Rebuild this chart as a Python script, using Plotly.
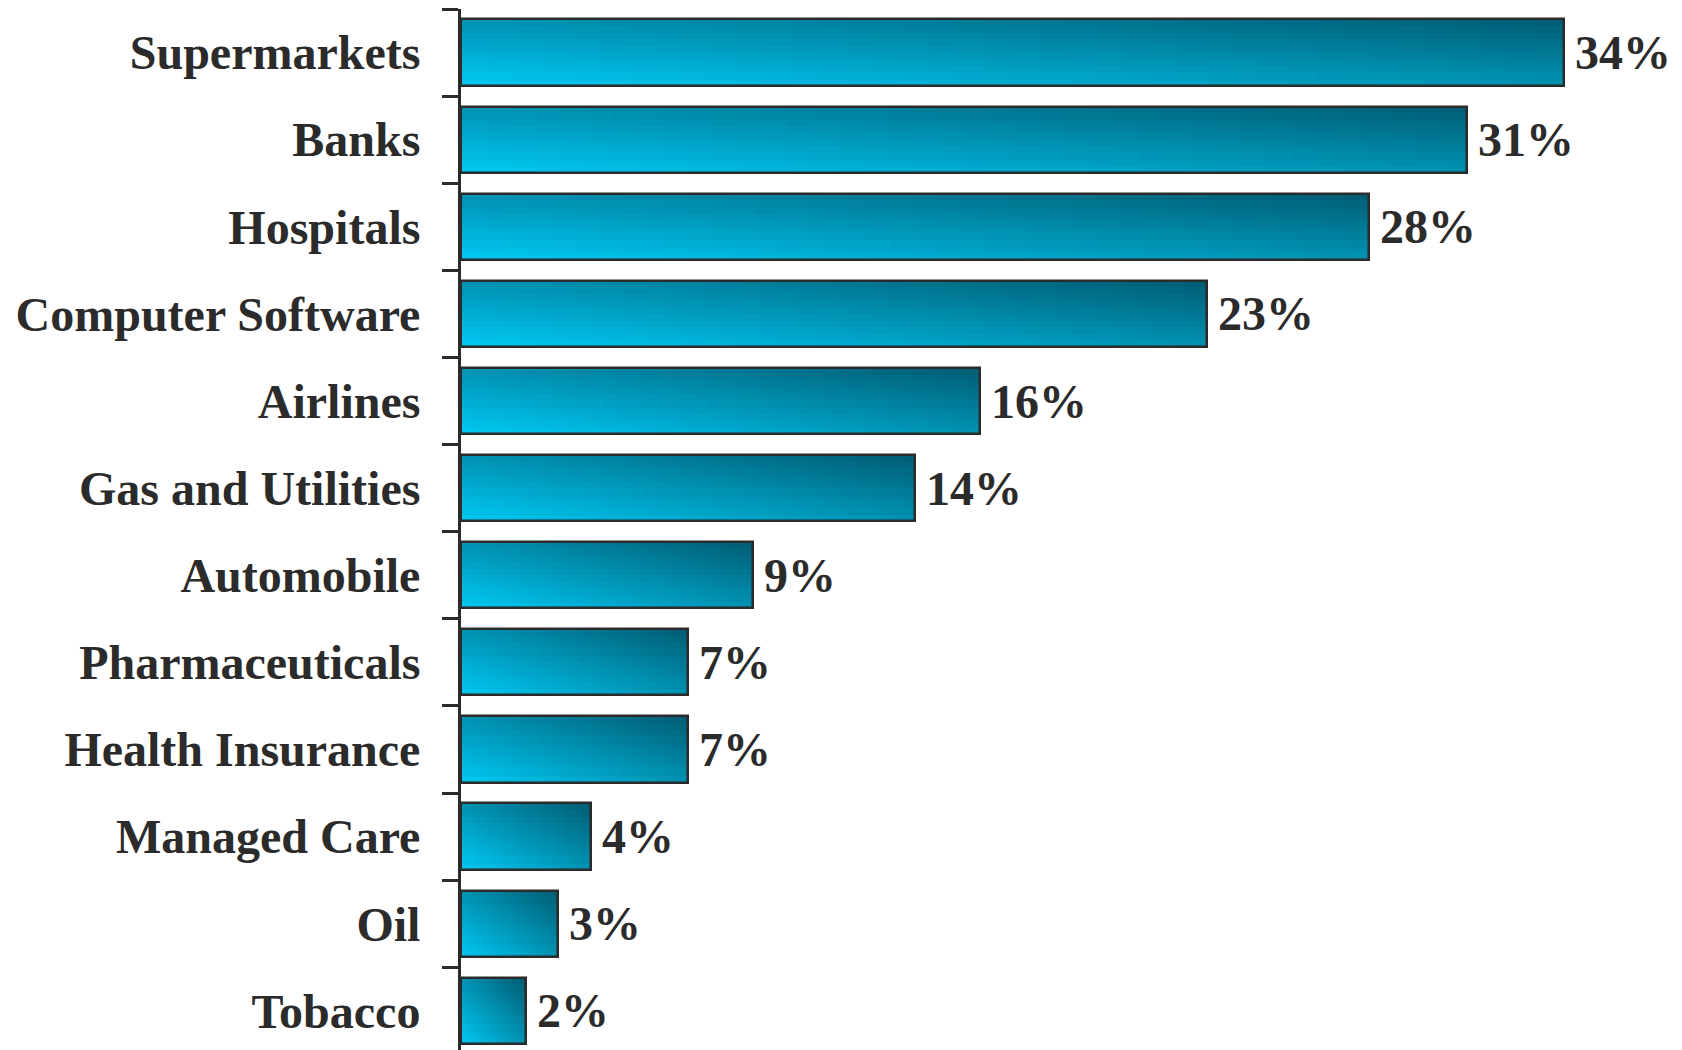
import plotly.graph_objects as go

categories = ["Supermarkets", "Banks", "Hospitals", "Computer Software", "Airlines",
              "Gas and Utilities", "Automobile", "Pharmaceuticals", "Health Insurance",
              "Managed Care", "Oil", "Tobacco"]
values = [34, 31, 28, 23, 16, 14, 9, 7, 7, 4, 3, 2]
label_texts = [f"{v}%" for v in values]

BAR_W = 0.76
N_X = 40   # gradient slices along the bar length
N_Y = 10   # gradient strips across the bar thickness
C0 = (0, 200, 242)   # bright cyan (bottom-left)
C1 = (0, 92, 115)    # dark teal (top-right)


def mix(t):
    return "rgb({},{},{})".format(*[round(a + (b - a) * t) for a, b in zip(C0, C1)])


gx, gy, gbase, goff, gw, gcol = [], [], [], [], [], []
for cat, v in zip(categories, values):
    for i in range(N_X):
        for j in range(N_Y):
            gy.append(cat)
            gx.append(v / N_X)
            gbase.append(v * i / N_X)
            goff.append(-BAR_W / 2 + j * BAR_W / N_Y)
            gw.append(BAR_W / N_Y)
            t = ((i + 0.5) / N_X + (1 - (j + 0.5) / N_Y)) / 2
            gcol.append(mix(t))

fig = go.Figure()
fig.add_trace(go.Bar(
    x=gx, y=gy, base=gbase, offset=goff, width=gw, orientation="h",
    marker=dict(color=gcol, line=dict(width=0)), hoverinfo="skip", showlegend=False,
))
fig.add_trace(go.Bar(
    x=values, y=categories, orientation="h", width=BAR_W,
    marker=dict(color="rgba(0,0,0,0)", line=dict(color="#2b2b2b", width=2.5)),
    showlegend=False,
))

for cat, txt, v in zip(categories, label_texts, values):
    fig.add_annotation(x=v, y=cat, text=txt, showarrow=False, xanchor="left",
                       yanchor="middle", xshift=9,
                       font=dict(family="Liberation Serif", size=48, color="#2b2b2b",
                                 weight="bold"))

W, H = 1674, 1042
L = 453
px_per_unit = 32.44
plot_w = W - L
fig.update_layout(
    width=W, height=H,
    margin=dict(l=L, r=0, t=1, b=0, pad=0),
    paper_bgcolor="white", plot_bgcolor="white",
    barmode="overlay", bargap=0,
    xaxis=dict(range=[0, plot_w / px_per_unit], visible=False, fixedrange=True),
    yaxis=dict(
        type="category", categoryorder="array", categoryarray=categories,
        range=[11.45, -0.5], showline=True, linecolor="#2b2b2b", linewidth=3,
        ticks="outside", tickson="boundaries", ticklen=16, tickwidth=2.5,
        tickcolor="#2b2b2b", showgrid=False, zeroline=False, ticklabelstandoff=28,
        tickfont=dict(family="Liberation Serif", size=48, color="#2b2b2b", weight="bold"),
    ),
)

fig.write_html("out.html")
